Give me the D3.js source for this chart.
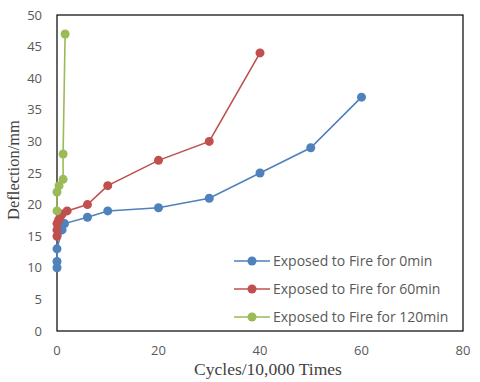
<!DOCTYPE html>
<html><head><meta charset="utf-8">
<script src="https://cdn.jsdelivr.net/npm/d3@7"></script>
<style>body{margin:0;background:#fff}svg{display:block}</style>
</head><body>
<svg id="c" width="480" height="382"></svg>
<script>
const seriesNames = ["Exposed to Fire for 0min","Exposed to Fire for 60min","Exposed to Fire for 120min"];
const seriesColors = ["#4F81BD","#C0504D","#9BBB59"];
const fire0x = [0,0,0,1,1.5,6,10,20,30,40,50,60];
const fire0y = [10,11,13,16,17,18,19,19.5,21,25,29,37];
const fire60x = [0,0,0,0.3,0.6,1,2,6,10,20,30,40];
const fire60y = [15,16,17,17.5,18,18.5,19,20,23,27,30,44];
const fire120x = [0,0,0.4,1.2,1.2,1.6];
const fire120y = [19,22,23,24,28,47];
const xTicks = [0,20,40,60,80];
const yTicks = [0,5,10,15,20,25,30,35,40,45,50];

const svg = d3.select("#c");
const L=57,R=463,T=15,B=331;
const x = d3.scaleLinear().domain([0,80]).range([L,R]);
const y = d3.scaleLinear().domain([0,50]).range([B,T]);

const series = [[fire0x,fire0y],[fire60x,fire60y],[fire120x,fire120y]].map((s,i)=>({
  name:seriesNames[i], color:seriesColors[i], pts:s[0].map((v,j)=>[v,s[1][j]])}));

svg.append("rect").attr("x",L).attr("y",T).attr("width",R-L).attr("height",B-T)
  .attr("fill","none").attr("stroke","#000").attr("stroke-width",1.2);

const tickFont = "'Open Sans','Noto Sans',sans-serif";
svg.append("g").selectAll("text").data(yTicks).join("text")
  .attr("x",42).attr("y",d=>y(d)).attr("dy","0.35em").attr("text-anchor","end")
  .attr("font-family",tickFont).attr("font-size",13).attr("fill","#595959").text(d=>d);
svg.append("g").selectAll("text").data(xTicks).join("text")
  .attr("x",d=>x(d)).attr("y",350).attr("dy","0.35em").attr("text-anchor","middle")
  .attr("font-family",tickFont).attr("font-size",13).attr("fill","#595959").text(d=>d);

svg.append("text").attr("x",268).attr("y",375).attr("text-anchor","middle")
  .attr("font-family","'Liberation Serif','Times New Roman',serif").attr("font-size",17.5)
  .attr("fill","#404040").text("Cycles/10,000 Times");
svg.append("text").attr("transform","translate(19,170) rotate(-90)").attr("text-anchor","middle")
  .attr("font-family","'Liberation Serif','Times New Roman',serif").attr("font-size",16.5)
  .attr("fill","#404040").text("Deflection/mm");

const line = d3.line().x(d=>x(d[0])).y(d=>y(d[1]));
series.forEach(s=>{
  svg.append("path").attr("d",line(s.pts)).attr("fill","none").attr("stroke",s.color).attr("stroke-width",1.6);
  svg.append("g").selectAll("circle").data(s.pts).join("circle")
    .attr("cx",d=>x(d[0])).attr("cy",d=>y(d[1])).attr("r",4.5).attr("fill",s.color);
});

const lg = svg.append("g");
series.forEach((s,i)=>{
  const yy = 261 + i*28;
  lg.append("line").attr("x1",234).attr("x2",270).attr("y1",yy).attr("y2",yy).attr("stroke",s.color).attr("stroke-width",1.6);
  lg.append("circle").attr("cx",252).attr("cy",yy).attr("r",4.5).attr("fill",s.color);
  lg.append("text").attr("x",273).attr("y",yy).attr("dy","0.35em")
    .attr("font-family",tickFont).attr("font-size",14).attr("fill","#595959").text(s.name);
});
</script>
</body></html>
